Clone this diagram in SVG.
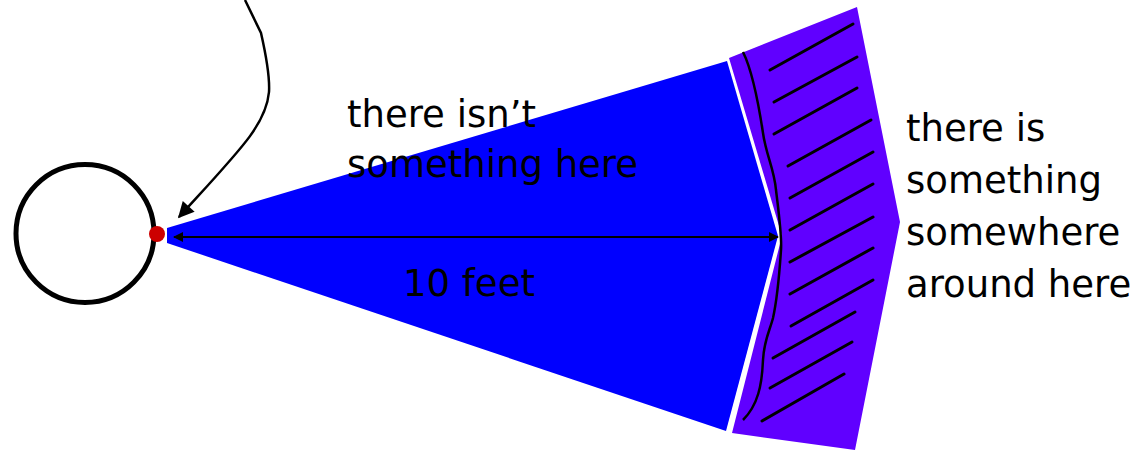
<svg xmlns="http://www.w3.org/2000/svg" width="1141" height="451" viewBox="0 0 1141 451">
<defs>
<style>
.t{font-family:"DejaVu Sans","Liberation Sans",sans-serif;font-size:37px;fill:#000}
.h{stroke:#000;stroke-width:3;stroke-linecap:round}
</style>
<marker id="ah" viewBox="0 0 10 10" refX="9" refY="5" markerWidth="13" markerHeight="10" orient="auto-start-reverse" markerUnits="userSpaceOnUse"><path d="M0,0 L10,5 L0,10 z" fill="#000"/></marker>
<marker id="ah2" viewBox="0 0 10 10" refX="9" refY="5" markerWidth="20" markerHeight="16" orient="auto" markerUnits="userSpaceOnUse"><path d="M0,0 L10,5 L0,10 z" fill="#000"/></marker>
</defs>
<g id="beam"><polygon points="167,228 727,61 778,236 726,431 167,243" fill="#0000ff"/></g>
<g id="obstacle">
<polygon points="729,58 857,7 900,222 855,450 732,433 782,236" fill="#6000ff"/>
<path d="M743,52 C752,70 758,100 763,133 C766,155 774,168 776,190 C779,215 782,236 781,250 C779,280 777,300 773,318 C770,330 764,340 763,360 C762,385 758,405 743,420" fill="none" stroke="#000" stroke-width="2.5"/>
<line class="h" x1="770" y1="70" x2="853" y2="24"/>
<line class="h" x1="774" y1="102" x2="857" y2="57"/>
<line class="h" x1="774" y1="134" x2="857" y2="88"/>
<line class="h" x1="788" y1="166" x2="871" y2="120"/>
<line class="h" x1="790" y1="198" x2="873" y2="152"/>
<line class="h" x1="790" y1="230" x2="873" y2="184"/>
<line class="h" x1="790" y1="262" x2="873" y2="217"/>
<line class="h" x1="790" y1="294" x2="873" y2="248"/>
<line class="h" x1="791" y1="326" x2="873" y2="280"/>
<line class="h" x1="773" y1="358" x2="855" y2="312"/>
<line class="h" x1="770" y1="388" x2="852" y2="342"/>
<line class="h" x1="762" y1="421" x2="844" y2="374"/>
</g>
<g id="robot">
<circle cx="85" cy="233.5" r="69" fill="none" stroke="#000" stroke-width="5"/>
<circle cx="157" cy="234" r="8" fill="#cc0000"/>
</g>
<g id="connectors">
<line x1="174" y1="237" x2="778" y2="237" stroke="#000" stroke-width="1.8" marker-start="url(#ah)" marker-end="url(#ah)"/>
<path d="M245,0 L261,33 C266,55 270,75 269,92 C266,125 240,150 179,217" fill="none" stroke="#000" stroke-width="2.5" marker-end="url(#ah2)"/>
</g>
<g id="labels">
<text class="t" x="347" y="127">there isn’t</text>
<text class="t" x="347" y="177">something here</text>
<text class="t" x="403" y="296">10 feet</text>
<text class="t" x="906" y="141">there is</text>
<text class="t" x="906" y="193">something</text>
<text class="t" x="906" y="245">somewhere</text>
<text class="t" x="906" y="297">around here</text>
</g>
</svg>
